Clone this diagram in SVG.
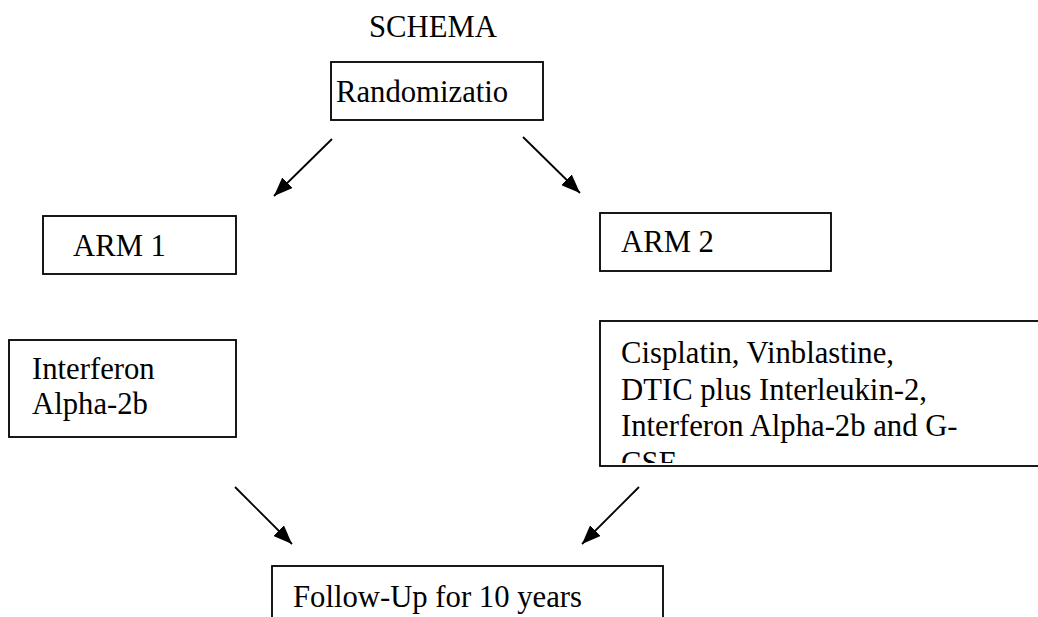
<svg xmlns="http://www.w3.org/2000/svg" width="1038" height="617" viewBox="0 0 1038 617">
  <style>
    .box { fill: #fff; stroke: #000; stroke-width: 1.8; }
    .t { font-family: 'Liberation Serif', 'Times New Roman', Times, serif; font-size: 30.7px; fill: #000; }
    .conn line { stroke: #000; stroke-width: 1.8; }
  </style>
  <defs>
    <marker id="arrB" viewBox="0 0 10 10" refX="10" refY="5" markerWidth="19" markerHeight="15" markerUnits="userSpaceOnUse" orient="auto" preserveAspectRatio="none">
      <path d="M0,0 L10,5 L0,10 z" fill="#000"/>
    </marker>
    <clipPath id="clipR">
      <rect x="600" y="321" width="440" height="142"/>
    </clipPath>
  </defs>
  <rect width="1038" height="617" fill="#fff"/>

  <g font-family="Liberation Serif, Times New Roman, serif">
  <text class="t" x="433" y="37" text-anchor="middle">SCHEMA</text>

  <g id="randomization">
    <rect class="box" x="331" y="62" width="212" height="58"/>
    <text class="t" x="336" y="102">Randomizatio</text>
  </g>

  <g id="arm1">
    <rect class="box" x="43" y="216" width="193" height="58"/>
    <text class="t" x="73" y="256">ARM 1</text>
  </g>

  <g id="arm2">
    <rect class="box" x="600" y="213" width="231" height="58"/>
    <text class="t" x="621" y="252">ARM 2</text>
  </g>

  <g id="arm1-treatment">
    <rect class="box" x="9" y="340" width="227" height="97"/>
    <text class="t" x="32" y="379">Interferon</text>
    <text class="t" x="32" y="414">Alpha-2b</text>
  </g>

  <g id="arm2-treatment">
    <rect class="box" x="600" y="321" width="445" height="145"/>
    <g clip-path="url(#clipR)">
      <text class="t" x="621" y="363">Cisplatin, Vinblastine,</text>
      <text class="t" x="621" y="400">DTIC plus Interleukin-2,</text>
      <text class="t" x="621" y="436">Interferon Alpha-2b and G-</text>
      <text class="t" x="621" y="473">CSF</text>
    </g>
  </g>

  <g id="followup">
    <rect class="box" x="272" y="566" width="391" height="60"/>
    <text class="t" x="293" y="607">Follow-Up for 10 years</text>
  </g>
  </g>

  <g id="connectors" class="conn">
    <line x1="332" y1="139" x2="274" y2="196" marker-end="url(#arrB)"/>
    <line x1="523" y1="137" x2="580" y2="193" marker-end="url(#arrB)"/>
    <line x1="235" y1="487" x2="292" y2="544" marker-end="url(#arrB)"/>
    <line x1="639" y1="487" x2="582" y2="544" marker-end="url(#arrB)"/>
  </g>
</svg>
